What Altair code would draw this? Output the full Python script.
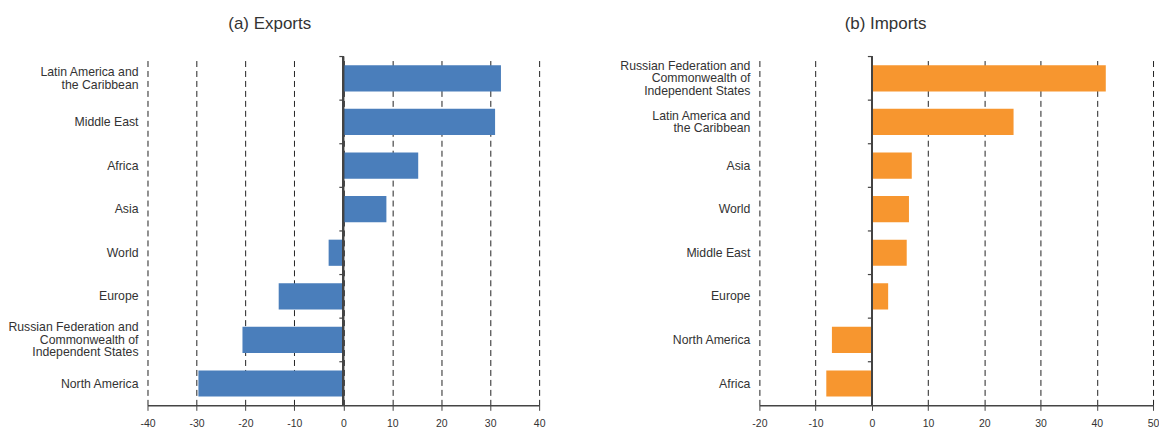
import altair as alt
import pandas as pd

# Growth by region, per cent
export_regions = [
    "Latin America and\nthe Caribbean",
    "Middle East",
    "Africa",
    "Asia",
    "World",
    "Europe",
    "Russian Federation and\nCommonwealth of\nIndependent States",
    "North America",
]
export_values = [32.2, 31.0, 15.3, 8.8, -3.0, -13.2, -20.6, -29.6]

import_regions = [
    "Russian Federation and\nCommonwealth of\nIndependent States",
    "Latin America and\nthe Caribbean",
    "Asia",
    "World",
    "Middle East",
    "Europe",
    "North America",
    "Africa",
]
import_values = [41.6, 25.2, 7.1, 6.6, 6.2, 2.9, -7.1, -8.1]

export_ticks = [-40, -30, -20, -10, 0, 10, 20, 30, 40]
import_ticks = [-20, -10, 0, 10, 20, 30, 40, 50]

FONT = "Liberation Sans"
TEXT = "#333333"
LINE = "#444444"
LABEL_SIZE = 12.3
LINE_HEIGHT = 12.5


def panel(regions, values, ticks, title, color, width, title_dx):
    df = pd.DataFrame({"region": regions, "value": values})
    x_scale = alt.Scale(domain=[ticks[0], ticks[-1]], nice=False)
    y_scale = alt.Scale(paddingInner=0, paddingOuter=0)

    x_axis = alt.Axis(
        values=ticks,
        labelExpr="datum.value + ''",
        grid=True,
        gridDash=[6, 4],
        gridColor="#222222",
        gridWidth=1,
        ticks=True,
        tickSize=5,
        tickColor=LINE,
        domainColor=LINE,
        domainWidth=1.5,
        labelFont=FONT,
        labelFontSize=10.5,
        labelColor=TEXT,
        labelPadding=8,
        labelFlush=False,
    )
    # category names come from the text layers below, so multi-line names stay centred
    y_axis = alt.Axis(
        labels=False,
        ticks=False,
        domain=False,
        grid=False,
        minExtent=139,
        maxExtent=139,
    )

    bars = alt.Chart(df).mark_bar(color=color, height={"band": 0.6}).encode(
        x=alt.X("value:Q", scale=x_scale, title=None, axis=x_axis),
        y=alt.Y("region:N", sort=regions, scale=y_scale, title=None, axis=y_axis),
    )

    # solid zero line across the plot
    zero = alt.Chart(df).mark_rule(color=LINE, strokeWidth=1.5).encode(
        x=alt.XDatum(0, title=None, axis=x_axis)
    )

    # short ticks on the zero line marking each category boundary
    marks = alt.Chart(df).mark_rule(color=LINE, strokeWidth=1.2, x2Offset=-4).encode(
        y=alt.Y("region:N", sort=regions, bandPosition=0, title=None, axis=y_axis),
        x=alt.XDatum(0, title=None, axis=x_axis),
        x2=alt.X2Datum(0),
    )

    # right-aligned category names, one layer per line count, block-centred on the band
    name_layers = []
    for n in (1, 2, 3):
        name_layers.append(
            alt.Chart(df)
            .transform_filter(f"length(split(datum.region, '\\n')) == {n}")
            .mark_text(
                align="right",
                baseline="middle",
                lineBreak="\n",
                lineHeight=LINE_HEIGHT,
                font=FONT,
                fontSize=LABEL_SIZE,
                color=TEXT,
                dy=-(n - 1) * LINE_HEIGHT / 2,
            )
            .encode(
                y=alt.Y("region:N", sort=regions, title=None, axis=y_axis),
                x=alt.value(-9),
                text="region:N",
            )
        )

    return alt.layer(bars, zero, marks, *name_layers).properties(
        width=width,
        height=350,
        title=alt.Title(
            title,
            frame="bounds",
            anchor="middle",
            font=FONT,
            fontSize=17,
            fontWeight="normal",
            color=TEXT,
            offset=23,
            dx=title_dx,
        ),
    )


left = panel(export_regions, export_values, export_ticks, "(a) Exports", "#4A7EBB", 393, -7)
right = panel(import_regions, import_values, import_ticks, "(b) Imports", "#F7962F", 395, -4)

chart = (
    alt.hconcat(left, right, spacing=221, bounds="flush")
    .properties(padding={"left": 8, "top": 14, "right": 0, "bottom": 0})
    .configure(background="white")
    .configure_view(stroke=None)
)

chart.save("out.html", embed_options={"renderer": "svg", "actions": False})
